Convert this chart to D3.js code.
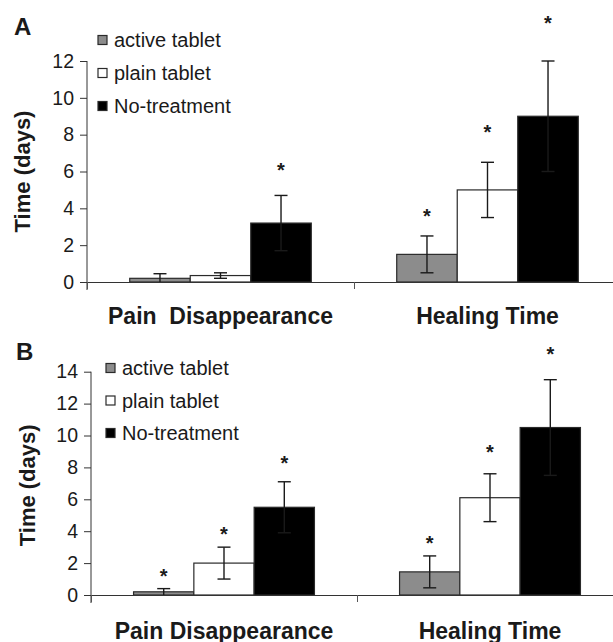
<!DOCTYPE html>
<html>
<head>
<meta charset="utf-8">
<script src="https://cdn.jsdelivr.net/npm/d3@7"></script>
<style>
  html, body { margin: 0; padding: 0; background: #fff; }
  svg { display: block; }
  text { font-family: "Liberation Sans", Arial, sans-serif; fill: #1a1a1a; }
</style>
</head>
<body>
<svg id="chart" width="613" height="642"></svg>
<script>
// series + categories
const seriesNames = ["active tablet", "plain tablet", "No-treatment"];
const seriesFill = ["#8c8c8c", "#ffffff", "#000000"];

// panel A
const categoriesA = ["Pain  Disappearance", "Healing Time"];
const activeMeanA = [0.2, 1.5];
const plainMeanA = [0.35, 5.0];
const noTreatMeanA = [3.2, 9.0];
const activeErrA = [0.25, 1.0];
const plainErrA = [0.15, 1.5];
const noTreatErrA = [1.5, 3.0];
const activeStarA = [null, 3.8];   // where the * sits, in days
const plainStarA = [null, 8.4];
const noTreatStarA = [6.3, 14.3];
const yTicksA = [0, 2, 4, 6, 8, 10, 12];

// panel B
const categoriesB = ["Pain Disappearance", "Healing Time"];
const activeMeanB = [0.2, 1.45];
const plainMeanB = [2.0, 6.1];
const noTreatMeanB = [5.5, 10.5];
const activeErrB = [0.2, 1.0];
const plainErrB = [1.0, 1.5];
const noTreatErrB = [1.6, 3.0];
const activeStarB = [1.46, 3.5];
const plainStarB = [4.1, 9.26];
const noTreatStarB = [8.57, 15.36];
const yTicksB = [0, 2, 4, 6, 8, 10, 12, 14];

const svg = d3.select("#chart");

function drawPanel(p) {
    const g = svg.append("g");

    const x0 = d3.scaleBand().domain(p.categories).range([p.left, p.right]);
    const bw = x0.bandwidth();
    const x1 = d3.scaleBand().domain(seriesNames).range([bw * 0.16, bw * 0.84]);
    const y = d3.scaleLinear().domain([0, d3.max(p.yTicks)]).range([p.bottom, p.top]);

    // rows: one per category x series
    let rows = [];
    p.categories.forEach((c, ci) => {
        seriesNames.forEach((s, si) => {
            rows.push({
                cat: c, series: s, si: si,
                mean: p.means[si][ci],
                err: p.errs[si][ci],
                star: p.stars[si][ci]
            });
        });
    });

    // bars
    g.append("g").selectAll("rect")
        .data(rows)
        .enter().append("rect")
        .attr("x", d => x0(d.cat) + x1(d.series))
        .attr("y", d => y(d.mean))
        .attr("width", x1.bandwidth())
        .attr("height", d => y(0) - y(d.mean))
        .attr("fill", d => seriesFill[d.si])
        .attr("stroke", "#2a2a2a")
        .attr("stroke-width", 1.2);

    // error bars
    const cap = 6.5;
    let eb = g.append("g").attr("stroke", "#1a1a1a").attr("stroke-width", 1.4)
        .selectAll("g").data(rows).enter().append("g")
        .attr("transform", d => `translate(${x0(d.cat) + x1(d.series) + x1.bandwidth() / 2},0)`);
    eb.append("line")
        .attr("y1", d => y(Math.max(0, d.mean - d.err)))
        .attr("y2", d => y(d.mean + d.err));
    eb.append("line")
        .attr("x1", -cap).attr("x2", cap)
        .attr("y1", d => y(d.mean + d.err)).attr("y2", d => y(d.mean + d.err));
    eb.filter(d => d.mean - d.err > 0.05).append("line")
        .attr("x1", -cap).attr("x2", cap)
        .attr("y1", d => y(d.mean - d.err)).attr("y2", d => y(d.mean - d.err));

    // significance stars
    const starSize = 20;
    g.append("g").selectAll("text")
        .data(rows.filter(d => d.star != null))
        .enter().append("text")
        .attr("x", d => x0(d.cat) + x1(d.series) + x1.bandwidth() / 2)
        .attr("y", d => y(d.star) + starSize * 0.56)
        .attr("text-anchor", "middle")
        .attr("font-weight", "bold")
        .attr("font-size", starSize)
        .text("*");

    // y axis
    const yAxis = g.append("g")
        .attr("transform", `translate(${p.left},0)`)
        .call(d3.axisLeft(y).tickValues(p.yTicks).tickSize(7).tickSizeOuter(0).tickPadding(6));
    yAxis.select(".domain").remove();
    yAxis.append("line")
        .attr("y1", y(d3.max(p.yTicks))).attr("y2", y(0) + 8)
        .attr("stroke", "#333");
    yAxis.selectAll(".tick line").attr("stroke", "#333");
    yAxis.selectAll(".tick text")
        .attr("font-size", 19.5)
        .attr("font-family", "Liberation Sans, Arial, sans-serif")
        .attr("fill", "#1a1a1a");

    // x axis: baseline + category boundary ticks
    const xb = d3.scaleLinear().domain([0, p.categories.length]).range([p.left, p.right]);
    const xAxis = g.append("g")
        .attr("transform", `translate(0,${y(0)})`)
        .call(d3.axisBottom(xb).tickValues(d3.range(p.categories.length + 1)).tickSize(7)
            .tickSizeOuter(0).tickFormat(""));
    xAxis.select(".domain").attr("stroke", "#333");
    xAxis.selectAll(".tick line").attr("stroke", "#555");

    const xLab = g.append("g")
        .attr("transform", `translate(0,${y(0)})`)
        .call(d3.axisBottom(x0).tickSize(0).tickPadding(p.labelPad));
    xLab.select(".domain").remove();
    xLab.selectAll(".tick text")
        .attr("font-size", 23)
        .attr("font-weight", "bold")
        .attr("font-family", "Liberation Sans, Arial, sans-serif")
        .attr("fill", "#1a1a1a")
        .style("white-space", "pre");

    // y title
    g.append("text")
        .attr("transform", `translate(${p.titleX},${(y(0) + y(d3.max(p.yTicks))) / 2 + p.titleShift}) rotate(-90)`)
        .attr("text-anchor", "middle")
        .attr("font-weight", "bold")
        .attr("font-size", 22)
        .text("Time (days)");

    // panel letter
    g.append("text")
        .attr("x", p.letterX).attr("y", p.letterY)
        .attr("font-weight", "bold")
        .attr("font-size", 24)
        .text(p.letter);

    // legend
    const leg = g.append("g").selectAll("g")
        .data(seriesNames)
        .enter().append("g")
        .attr("transform", (d, i) => `translate(${p.legX},${p.legY + i * p.legStep})`);
    leg.append("rect")
        .attr("x", 0).attr("y", -4.5)
        .attr("width", 9).attr("height", 9)
        .attr("fill", (d, i) => seriesFill[i])
        .attr("stroke", "#2a2a2a")
        .attr("stroke-width", 1.2);
    leg.append("text")
        .attr("x", 16).attr("y", 7)
        .attr("font-size", 20)
        .text(d => d);
}

drawPanel({
    letter: "A", letterX: 14, letterY: 35,
    categories: categoriesA,
    means: [activeMeanA, plainMeanA, noTreatMeanA],
    errs: [activeErrA, plainErrA, noTreatErrA],
    stars: [activeStarA, plainStarA, noTreatStarA],
    yTicks: yTicksA,
    left: 87, right: 621, top: 61, bottom: 282,
    labelPad: 26,
    titleX: 30, titleShift: 0,
    legX: 98, legY: 40, legStep: 33
});

drawPanel({
    letter: "B", letterX: 16, letterY: 360,
    categories: categoriesB,
    means: [activeMeanB, plainMeanB, noTreatMeanB],
    errs: [activeErrB, plainErrB, noTreatErrB],
    stars: [activeStarB, plainStarB, noTreatStarB],
    yTicks: yTicksB,
    left: 91, right: 623, top: 371.7, bottom: 595,
    labelPad: 28,
    titleX: 35, titleShift: 2,
    legX: 106, legY: 368, legStep: 32.5
});
</script>
</body>
</html>
